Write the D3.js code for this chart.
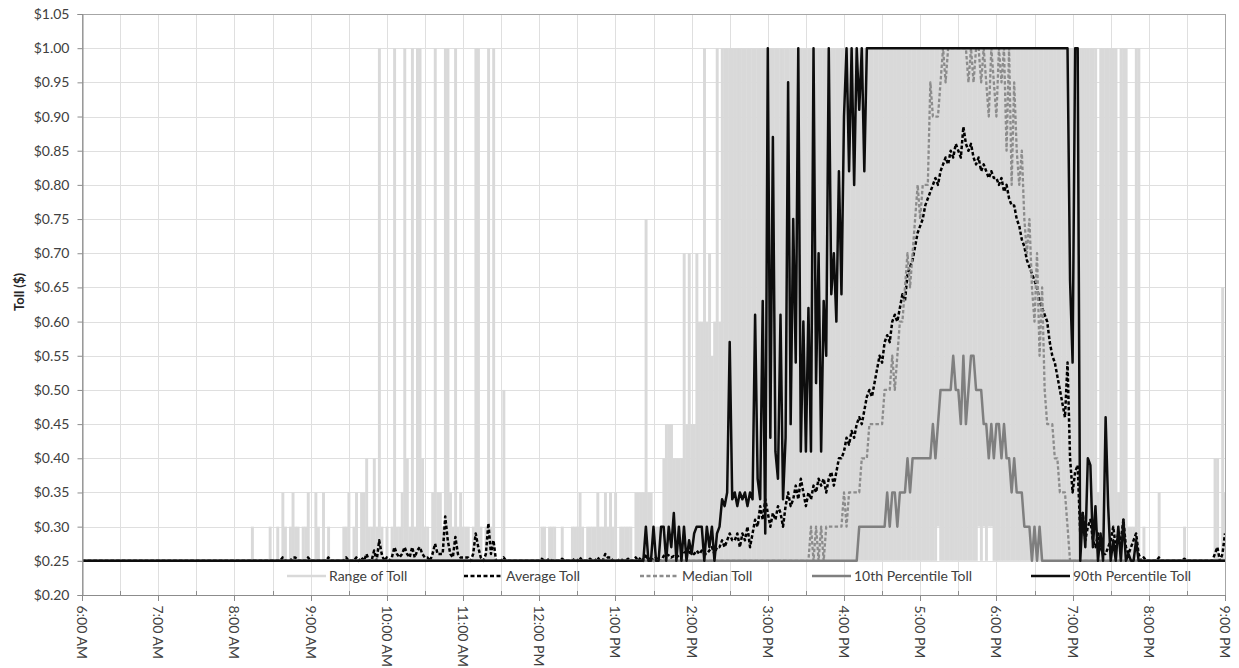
<!DOCTYPE html>
<html>
<head>
<meta charset="utf-8">
<script src="https://cdn.jsdelivr.net/npm/d3@7"></script>
<style>
  html, body { margin: 0; padding: 0; background: #ffffff; }
  svg { display: block; font-family: Lato, "Liberation Sans", sans-serif; }
</style>
</head>
<body>
<svg id="chart" width="1239" height="668"></svg>
<script>
// Toll samples every two minutes from 6:00 AM to 9:00 PM, values in cents.
// Each row below is one hour (30 samples); the last single value is 9:00 PM.
const startTime = "6:00 AM";
const stepMinutes = 2;

const tollHigh = [
  25,25,25,25,25,25,25,25,25,25,25,25,25,25,25,25,25,25,25,25,25,25,25,25,25,25,25,25,25,25,
  25,25,25,25,25,25,25,25,25,25,25,25,25,25,25,25,25,25,25,25,25,25,25,25,25,25,25,25,25,25,
  25,25,25,25,25,25,25,30,25,25,25,25,25,25,30,25,25,30,25,35,30,25,30,35,30,30,25,30,30,35,
  25,25,35,30,25,35,25,30,25,25,25,25,25,30,30,35,25,30,35,25,35,35,40,30,30,40,30,100,30,25,
  30,25,30,100,30,30,35,100,40,30,100,30,100,100,40,30,30,25,35,100,35,35,30,100,100,35,30,100,30,35,
  30,30,30,25,30,100,100,30,25,30,100,30,100,25,25,25,50,25,25,25,25,25,25,25,25,25,25,25,25,25,
  25,30,30,25,30,30,30,25,25,30,25,25,25,30,30,30,35,30,25,30,30,30,30,35,30,30,35,30,35,30,
  35,25,30,30,30,30,30,25,35,35,35,35,75,35,35,30,30,30,30,40,45,45,45,40,40,40,40,70,45,70,
  45,45,70,60,60,100,60,70,55,60,100,60,100,100,100,100,100,100,100,100,100,100,100,100,100,100,100,100,100,100,
  100,100,100,100,100,100,100,100,100,100,100,100,100,100,100,100,100,100,100,100,100,100,100,100,100,100,100,100,100,100,
  100,100,100,100,100,100,100,100,100,100,100,100,100,100,100,100,100,100,100,100,100,100,100,100,100,100,100,100,100,100,
  100,100,100,100,100,100,100,100,100,100,100,100,100,100,100,100,100,100,100,100,100,100,100,100,100,100,100,100,100,100,
  100,100,100,100,100,100,100,100,100,100,100,100,100,100,100,100,100,100,100,100,100,100,100,100,100,100,100,100,100,100,
  100,100,100,100,100,100,100,100,100,100,35,100,100,100,100,100,100,100,35,100,100,100,30,30,30,100,100,25,30,25,
  25,25,25,25,35,25,25,25,25,25,25,25,25,25,30,25,25,25,25,25,25,25,25,25,25,25,40,40,25,65,
  35
];

const tollLow = [
  25,25,25,25,25,25,25,25,25,25,25,25,25,25,25,25,25,25,25,25,25,25,25,25,25,25,25,25,25,25,
  25,25,25,25,25,25,25,25,25,25,25,25,25,25,25,25,25,25,25,25,25,25,25,25,25,25,25,25,25,25,
  25,25,25,25,25,25,25,25,25,25,25,25,25,25,25,25,25,25,25,25,25,25,25,25,25,25,25,25,25,25,
  25,25,25,25,25,25,25,25,25,25,25,25,25,25,25,25,25,25,25,25,25,25,25,25,25,25,25,25,25,25,
  25,25,25,25,25,25,25,25,25,25,25,25,25,25,25,25,25,25,25,25,25,25,25,25,25,25,25,25,25,25,
  25,25,25,25,25,25,25,25,25,25,25,25,25,25,25,25,25,25,25,25,25,25,25,25,25,25,25,25,25,25,
  25,25,25,25,25,25,25,25,25,25,25,25,25,25,25,25,25,25,25,25,25,25,25,25,25,25,25,25,25,25,
  25,25,25,25,25,25,25,25,25,25,25,25,25,25,25,25,25,25,25,25,25,25,25,25,25,25,25,25,25,25,
  25,25,25,25,25,25,25,25,25,25,25,25,25,25,25,25,25,25,25,25,25,25,25,25,25,25,25,25,25,25,
  25,25,25,25,25,25,25,25,25,25,25,25,25,25,25,25,25,25,25,25,25,25,25,25,25,25,25,25,25,25,
  25,25,25,25,25,25,25,25,25,25,25,25,25,25,25,25,25,25,25,25,25,25,25,25,25,25,25,25,25,25,
  25,25,25,25,25,25,25,30,25,25,25,25,25,25,25,25,25,25,25,25,25,25,25,30,25,30,25,30,30,25,
  25,25,25,25,25,25,25,25,25,25,25,25,25,25,25,25,25,25,25,25,25,25,25,25,25,25,25,25,25,25,
  25,25,25,25,25,25,25,25,25,25,25,25,25,25,25,25,25,25,25,25,25,25,25,25,25,25,25,25,25,25,
  25,25,25,25,25,25,25,25,25,25,25,25,25,25,25,25,25,25,25,25,25,25,25,25,25,25,25,25,25,25,
  25
];

const tollAvg = [
  25,25,25,25,25,25,25,25,25,25,25,25,25,25,25,25,25,25,25,25,25,25,25,25,25,25,25,25,25,25,
  25,25,25,25,25,25,25,25,25,25,25,25,25,25,25,25,25,25,25,25,25,25,25,25,25,25,25,25,25,25,
  25,25,25,25,25,25,25,25,25,25,25,25,25,25,25,25,25,25,25,25.5,25,25,25,25.5,25.5,25,25,25,25,25.5,
  25,25,25,25,25,25,25,25.5,25,25,25,25,25,25,25.5,25,25,25,25.5,25,25.5,25,26,25,25,26.5,25,28,26,25,
  25.5,25,25.5,27,26,25.5,26,27,26,25.5,27,25.5,26.5,27,26,25.5,25.5,25,26,27.5,26,26,26,31.5,28,26,25.5,28.5,26,25.5,
  25.5,25.5,25.5,25,26,29,27,25.5,25,26,30.5,26,28,25,25,25,25.5,25,25,25,25,25,25,25,25,25,25,25,25,25,
  25,25.3,25,25,25.3,25,25,25,25,25.3,25,25,25,25,25.3,25,25.5,25,25,25,25.3,25,25,25.5,25,25,26,25.5,25.5,25,
  25,25,25.3,25,25,25.3,25,25,25.5,25,25.5,25,26,25,25.5,25,25.5,25,25,25.7,26,25.8,25.5,25.7,25.5,25.8,26,26.5,26,26.3,
  26,26,26.5,26,26.5,26,26,26.5,27,26,27,27,28,27,28,29,28,28,29,27,29,28,30,27,29,31,30,33,31,34,
  32,30,32,31,33,32,30,33,35,33,34,36,34,37,35,33,35,34,36,35,37,36,37,35,37,38,36,38,40,40,
  41,43,42,44,43,45,46,45,47,49,50,49,51,53,55,54,57,58,57,60,61,60,62,64,63,67,68,69,71,73,
  74,75,77,78,79,80,81,80,82,83,84,83,85,84,86,85,84,88.5,86,85,86,84,83,84,82,83,82,81,82,81,
  81,80,81,79,80,78,77,77,75,74,72,71,69,68,67,66,65,63,62,61,60,57,55,54,52,50,48,46,54,40,
  35,38,39,29,32,28,30,31,28,27,29,27,26,26,27,28,30,27,29,28,31,27,26,27,28,29,26,25,25.5,25,
  25,25,25,25,25.5,25,25,25,25,25,25,25,25,25,25.3,25,25,25,25,25,25,25,25,25,25,25,26,27,25,26,
  29
];

const tollMedian = [
  25,25,25,25,25,25,25,25,25,25,25,25,25,25,25,25,25,25,25,25,25,25,25,25,25,25,25,25,25,25,
  25,25,25,25,25,25,25,25,25,25,25,25,25,25,25,25,25,25,25,25,25,25,25,25,25,25,25,25,25,25,
  25,25,25,25,25,25,25,25,25,25,25,25,25,25,25,25,25,25,25,25,25,25,25,25,25,25,25,25,25,25,
  25,25,25,25,25,25,25,25,25,25,25,25,25,25,25,25,25,25,25,25,25,25,25,25,25,25,25,25,25,25,
  25,25,25,25,25,25,25,25,25,25,25,25,25,25,25,25,25,25,25,25,25,25,25,25,25,25,25,25,25,25,
  25,25,25,25,25,25,25,25,25,25,25,25,25,25,25,25,25,25,25,25,25,25,25,25,25,25,25,25,25,25,
  25,25,25,25,25,25,25,25,25,25,25,25,25,25,25,25,25,25,25,25,25,25,25,25,25,25,25,25,25,25,
  25,25,25,25,25,25,25,25,25,25,25,25,25,25,25,25,25,25,25,25,25,25,25,25,25,25,25,25,25,25,
  25,25,25,25,25,25,25,25,25,25,25,25,25,25,25,25,25,25,25,25,25,25,25,25,25,25,25,25,25,25,
  25,25,25,25,25,25,25,25,25,25,25,25,25,25,25,25,25,30,25,30,25,30,25,30,30,30,30,30,30,30,
  35,30,35,35,35,35,35,40,40,40,45,45,45,45,45,45,50,50,50,55,50,55,60,60,65,70,65,70,75,80,
  75,80,80,80,95,90,90,90,95,100,95,100,100,100,100,100,100,100,100,95,100,95,100,100,95,100,95,90,100,95,
  90,100,95,100,85,100,80,95,85,80,85,75,70,75,65,60,70,55,65,50,45,45,45,40,40,35,35,35,30,25,
  25,25,25,25,25,25,25,25,25,25,25,25,25,25,25,25,25,25,25,25,25,25,25,25,25,25,25,25,25,25,
  25,25,25,25,25,25,25,25,25,25,25,25,25,25,25,25,25,25,25,25,25,25,25,25,25,25,25,25,25,25,
  25
];

const tollP10 = [
  25,25,25,25,25,25,25,25,25,25,25,25,25,25,25,25,25,25,25,25,25,25,25,25,25,25,25,25,25,25,
  25,25,25,25,25,25,25,25,25,25,25,25,25,25,25,25,25,25,25,25,25,25,25,25,25,25,25,25,25,25,
  25,25,25,25,25,25,25,25,25,25,25,25,25,25,25,25,25,25,25,25,25,25,25,25,25,25,25,25,25,25,
  25,25,25,25,25,25,25,25,25,25,25,25,25,25,25,25,25,25,25,25,25,25,25,25,25,25,25,25,25,25,
  25,25,25,25,25,25,25,25,25,25,25,25,25,25,25,25,25,25,25,25,25,25,25,25,25,25,25,25,25,25,
  25,25,25,25,25,25,25,25,25,25,25,25,25,25,25,25,25,25,25,25,25,25,25,25,25,25,25,25,25,25,
  25,25,25,25,25,25,25,25,25,25,25,25,25,25,25,25,25,25,25,25,25,25,25,25,25,25,25,25,25,25,
  25,25,25,25,25,25,25,25,25,25,25,25,25,25,25,25,25,25,25,25,25,25,25,25,25,25,25,25,25,25,
  25,25,25,25,25,25,25,25,25,25,25,25,25,25,25,25,25,25,25,25,25,25,25,25,25,25,25,25,25,25,
  25,25,25,25,25,25,25,25,25,25,25,25,25,25,25,25,25,25,25,25,25,25,25,25,25,25,25,25,25,25,
  25,25,25,25,25,25,30,30,30,30,30,30,30,30,30,30,30,35,30,35,35,30,35,35,35,40,35,40,40,40,
  40,40,40,40,40,45,40,45,50,50,50,50,50,55,50,50,45,55,45,50,55,55,50,50,50,45,45,40,45,40,
  45,45,40,45,40,40,35,40,35,35,35,30,30,30,25,30,25,30,25,25,25,25,25,25,25,25,25,25,25,25,
  25,25,25,25,25,25,25,25,25,25,25,25,25,25,25,25,25,25,25,25,25,25,25,25,25,25,25,25,25,25,
  25,25,25,25,25,25,25,25,25,25,25,25,25,25,25,25,25,25,25,25,25,25,25,25,25,25,25,25,25,25,
  25
];

const tollP90 = [
  25,25,25,25,25,25,25,25,25,25,25,25,25,25,25,25,25,25,25,25,25,25,25,25,25,25,25,25,25,25,
  25,25,25,25,25,25,25,25,25,25,25,25,25,25,25,25,25,25,25,25,25,25,25,25,25,25,25,25,25,25,
  25,25,25,25,25,25,25,25,25,25,25,25,25,25,25,25,25,25,25,25,25,25,25,25,25,25,25,25,25,25,
  25,25,25,25,25,25,25,25,25,25,25,25,25,25,25,25,25,25,25,25,25,25,25,25,25,25,25,25,25,25,
  25,25,25,25,25,25,25,25,25,25,25,25,25,25,25,25,25,25,25,25,25,25,25,25,25,25,25,25,25,25,
  25,25,25,25,25,25,25,25,25,25,25,25,25,25,25,25,25,25,25,25,25,25,25,25,25,25,25,25,25,25,
  25,25,25,25,25,25,25,25,25,25,25,25,25,25,25,25,25,25,25,25,25,25,25,25,25,25,25,25,25,25,
  25,25,25,25,25,25,25,25,25,25,25,25,30,25,25,30,25,25,30,30,25,30,27,32,25,30,25,30,25,28,
  26,29,30,30,30,25,30,27,30,25,29,30,34,33,35,57,34,35,33,35,34,35,33,35,34,61,37,34,63,29,
  100,43,87,41,37,61,34,43,95,45,75,54,100,41,60,41,62,41,100,51,70,41,63,55,100,64,70,60,82,64,
  90,100,82,100,80,100,91,100,82,100,100,100,100,100,100,100,100,100,100,100,100,100,100,100,100,100,100,100,100,100,
  100,100,100,100,100,100,100,100,100,100,100,100,100,100,100,100,100,100,100,100,100,100,100,100,100,100,100,100,100,100,
  100,100,100,100,100,100,100,100,100,100,100,100,100,100,100,100,100,100,100,100,100,100,100,100,100,100,100,100,100,66,
  54,100,100,25,32,27,40,39,27,33,25,29,25,46,33,25,28,25,30,25,31,25,26,25,25,28,25,25,25,25,
  25,25,25,25,25,25,25,25,25,25,25,25,25,25,25,25,25,25,25,25,25,25,25,25,25,25,25,25,25,25,
  25
];

const hourLabels = [
  "6:00 AM", "7:00 AM", "8:00 AM", "9:00 AM", "10:00 AM", "11:00 AM", "12:00 PM", "1:00 PM",
  "2:00 PM", "3:00 PM", "4:00 PM", "5:00 PM", "6:00 PM", "7:00 PM", "8:00 PM", "9:00 PM"
];
const tollTicks = [0.20, 0.25, 0.30, 0.35, 0.40, 0.45, 0.50, 0.55, 0.60, 0.65, 0.70, 0.75, 0.80, 0.85, 0.90, 0.95, 1.00, 1.05];
const seriesNames = ["Range of Toll", "Average Toll", "Median Toll", "10th Percentile Toll", "90th Percentile Toll"];

// ---- layout ----
const W = 1239, H = 668;
const plot = { left: 82, right: 1225, top: 14, bottom: 595 };
const FONT = 'Lato, "Liberation Sans", sans-serif';
const LABEL = "#404040";

const parseClock = d3.timeParse("%I:%M %p");
const t0 = parseClock(startTime);
const tEnd = parseClock(hourLabels[hourLabels.length - 1]);
const timeAt = i => d3.timeMinute.offset(t0, i * stepMinutes);

const x = d3.scaleTime().domain([t0, tEnd]).range([plot.left, plot.right]);
const y = d3.scaleLinear().domain([tollTicks[0], tollTicks[tollTicks.length - 1]]).range([plot.bottom, plot.top]);
const dollars = d3.format("$.2f");

const svg = d3.select("#chart");
svg.append("rect").attr("width", W).attr("height", H).attr("fill", "#ffffff");

// gridlines
const halfHours = d3.timeMinute.every(30).range(t0, d3.timeMinute.offset(tEnd, 1));
const grid = svg.append("g").attr("shape-rendering", "crispEdges");
grid.selectAll("line.v").data(halfHours).join("line")
  .attr("class", "v")
  .attr("x1", d => Math.round(x(d)) + 0.5).attr("x2", d => Math.round(x(d)) + 0.5)
  .attr("y1", plot.top).attr("y2", plot.bottom)
  .attr("stroke", "#dfdfdf").attr("stroke-width", 1);
grid.selectAll("line.h").data(tollTicks).join("line")
  .attr("class", "h")
  .attr("x1", plot.left).attr("x2", plot.right)
  .attr("y1", d => Math.round(y(d)) + 0.5).attr("y2", d => Math.round(y(d)) + 0.5)
  .attr("stroke", "#dfdfdf").attr("stroke-width", 1);

// clip
svg.append("defs").append("clipPath").attr("id", "plotClip")
  .append("rect").attr("x", plot.left).attr("y", plot.top - 2)
  .attr("width", plot.right - plot.left).attr("height", plot.bottom - plot.top + 2);
const layer = svg.append("g").attr("clip-path", "url(#plotClip)");

// range of toll: one bar per sample from the lowest to the highest toll
const barW = x(timeAt(1)) - x(timeAt(0));
layer.append("g").selectAll("rect").data(tollHigh).join("rect")
  .attr("x", (d, i) => x(timeAt(i)) - barW / 2)
  .attr("width", barW + 0.4)
  .attr("y", d => y(d / 100))
  .attr("height", (d, i) => Math.max(0, y(tollLow[i] / 100) - y(d / 100)))
  .attr("fill", "#d9d9d9");

const line = d3.line().x((d, i) => x(timeAt(i))).y(d => y(d / 100));

const styles = [
  { data: tollAvg,    stroke: "#000000", width: 2.5, dash: "3.5,2.2" },
  { data: tollMedian, stroke: "#8c8c8c", width: 2.3, dash: "3.5,2.2" },
  { data: tollP10,    stroke: "#7f7f7f", width: 2.5, dash: null },
  { data: tollP90,    stroke: "#0d0d0d", width: 2.5, dash: null }
];
styles.forEach(s => {
  layer.append("path").datum(s.data)
    .attr("d", line)
    .attr("fill", "none")
    .attr("stroke", s.stroke)
    .attr("stroke-width", s.width)
    .attr("stroke-linejoin", "round")
    .attr("stroke-dasharray", s.dash);
});

// frame and axes
svg.append("rect")
  .attr("x", plot.left + 0.5).attr("y", plot.top + 0.5)
  .attr("width", plot.right - plot.left).attr("height", plot.bottom - plot.top)
  .attr("fill", "none").attr("stroke", "#a6a6a6").attr("shape-rendering", "crispEdges");

const yAxis = d3.axisLeft(y).tickValues(tollTicks).tickFormat(dollars).tickSize(5).tickPadding(8);
const gy = svg.append("g").attr("transform", `translate(${plot.left + 0.5},0)`).call(yAxis);
gy.select(".domain").attr("stroke", "#8c8c8c");
gy.selectAll(".tick line").attr("stroke", "#8c8c8c");
gy.selectAll(".tick text").attr("fill", LABEL).style("font-family", FONT).style("font-size", "14px");

// x axis: hour ticks outside, half-hour ticks inside
const hourTimes = hourLabels.map(parseClock);
const gx = svg.append("g").attr("transform", `translate(0,${plot.bottom + 0.5})`);
gx.append("line").attr("x1", plot.left).attr("x2", plot.right + 1)
  .attr("stroke", "#8c8c8c").attr("shape-rendering", "crispEdges");
gx.selectAll("line.major").data(hourTimes).join("line").attr("class", "major")
  .attr("x1", d => Math.round(x(d)) + 0.5).attr("x2", d => Math.round(x(d)) + 0.5)
  .attr("y1", 0).attr("y2", 5).attr("stroke", "#8c8c8c").attr("shape-rendering", "crispEdges");
gx.selectAll("line.minor").data(halfHours.filter(d => d.getMinutes() === 30)).join("line").attr("class", "minor")
  .attr("x1", d => Math.round(x(d)) + 0.5).attr("x2", d => Math.round(x(d)) + 0.5)
  .attr("y1", -5).attr("y2", 0).attr("stroke", "#8c8c8c").attr("shape-rendering", "crispEdges");
gx.selectAll("text").data(hourLabels).join("text")
  .attr("transform", (d, i) => `translate(${x(hourTimes[i])},${10}) rotate(90)`)
  .attr("dy", "0.36em")
  .attr("text-anchor", "start")
  .attr("fill", LABEL)
  .style("font-family", FONT).style("font-size", "14px")
  .text(d => d);

// axis title
svg.append("text")
  .attr("transform", `translate(24,292) rotate(-90)`)
  .attr("text-anchor", "middle")
  .attr("fill", "#262626")
  .style("font-family", FONT).style("font-size", "13px").style("font-weight", "bold")
  .text("Toll ($)");

// legend
const legendX = [287, 464, 640, 812, 1031];
const legendY = 576;
const legendStyles = [
  { stroke: "#d9d9d9", width: 2.5, dash: null },
  { stroke: "#000000", width: 2.5, dash: "4,2.5" },
  { stroke: "#8c8c8c", width: 2.3, dash: "4,2.5" },
  { stroke: "#7f7f7f", width: 2.5, dash: null },
  { stroke: "#0d0d0d", width: 2.5, dash: null }
];
const legend = svg.append("g");
seriesNames.forEach((name, k) => {
  const g = legend.append("g").attr("transform", `translate(${legendX[k]},${legendY})`);
  g.append("line").attr("x1", 0).attr("x2", 39).attr("y1", 0).attr("y2", 0)
    .attr("stroke", legendStyles[k].stroke)
    .attr("stroke-width", legendStyles[k].width)
    .attr("stroke-dasharray", legendStyles[k].dash);
  g.append("text").attr("x", 42).attr("dy", "0.36em")
    .attr("fill", LABEL)
    .style("font-family", FONT).style("font-size", "14px")
    .text(name);
});
</script>
</body>
</html>
